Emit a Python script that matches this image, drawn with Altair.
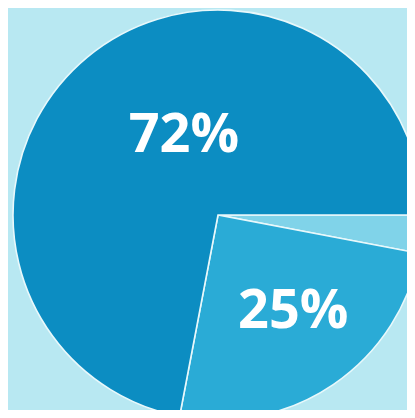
import math
import altair as alt
import pandas as pd

# Slices, clockwise starting at 3 o'clock
slices = ["3%", "25%", "72%"]
values = [3, 25, 72]
ranks = [0, 1, 2]
colors = ["#80d3e9", "#2aabd6", "#0c8dc2"]

df = pd.DataFrame({"slice": slices, "value": values, "rank": ranks})

theta_scale = alt.Scale(range=[math.pi / 2, math.pi / 2 + 2 * math.pi])

CX, CY = 210, 207  # pie centre inside the view

base = alt.Chart(df).encode(
    theta=alt.Theta("value:Q", stack=True, scale=theta_scale),
    order=alt.Order("rank:Q"),
    x=alt.value(CX),
    y=alt.value(CY),
)

pie = base.mark_arc(radius=205, stroke="#e8f8fb", strokeWidth=1.6).encode(
    color=alt.Color("slice:N", scale=alt.Scale(domain=slices, range=colors), legend=None)
)

text_style = dict(font="Open Sans", fontWeight="bold", fontSize=54, color="white",
                  align="center", baseline="middle")

lab72 = base.mark_text(radius=86, thetaOffset=0.284, **text_style).encode(
    text=alt.condition(alt.datum.slice == "72%", "slice:N", alt.value(""))
)
lab25 = base.mark_text(radius=123, thetaOffset=-0.061, **text_style).encode(
    text=alt.condition(alt.datum.slice == "25%", "slice:N", alt.value(""))
)

chart = (
    alt.layer(pie, lab72, lab25)
    .properties(width=399, height=402, padding=0,
                autosize=alt.AutoSizeParams(type="none"),
                background="#b8e8f2")
    .configure_view(strokeWidth=0)
)

chart.save("out.html", embed_options={"renderer": "svg", "actions": False})
